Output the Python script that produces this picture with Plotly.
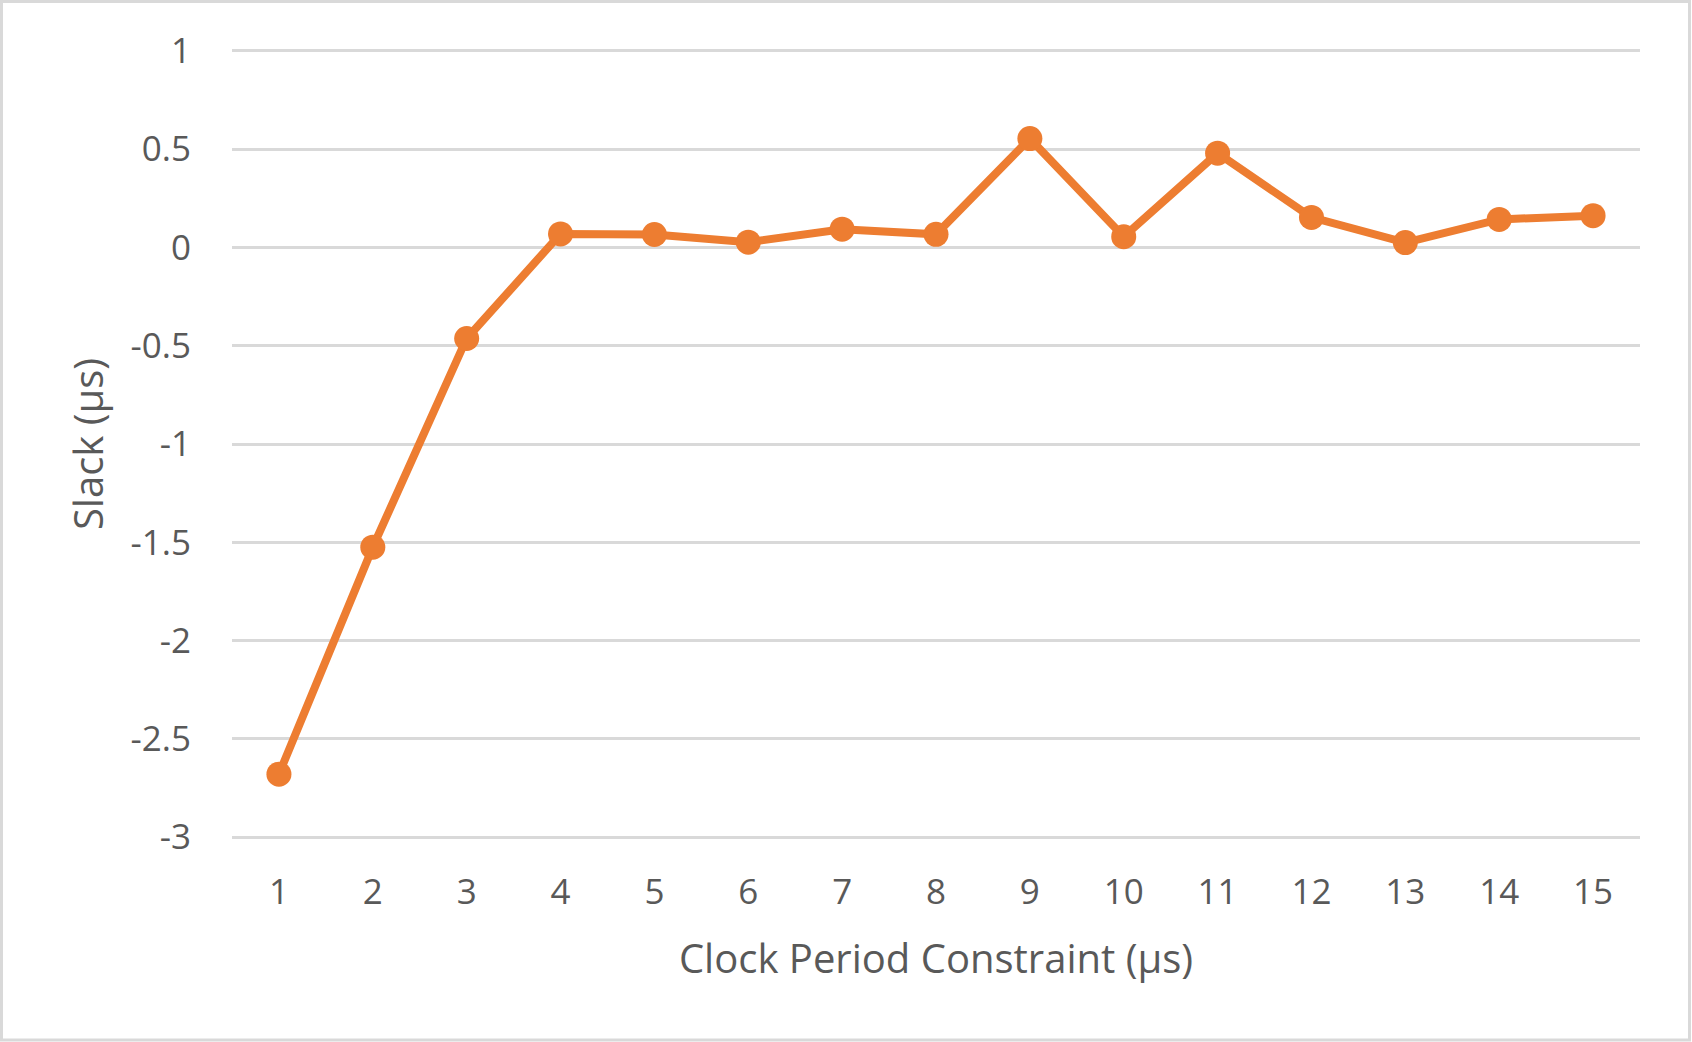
import plotly.graph_objects as go

# Clock period constraint (µs) and resulting slack (µs)
clock_periods = [1, 2, 3, 4, 5, 6, 7, 8, 9, 10, 11, 12, 13, 14, 15]
slack = [-2.68, -1.525, -0.463, 0.069, 0.066, 0.027, 0.093, 0.067,
         0.554, 0.055, 0.48, 0.153, 0.025, 0.143, 0.162]
y_ticks = [1, 0.5, 0, -0.5, -1, -1.5, -2, -2.5, -3]

FONT = "Open Sans"
TEXT_COLOR = "#595959"
GRID_COLOR = "#d9d9d9"
LINE_COLOR = "#ed7d31"

fig = go.Figure()

fig.add_trace(go.Scatter(
    x=clock_periods,
    y=slack,
    mode="lines+markers",
    line=dict(color=LINE_COLOR, width=8),
    marker=dict(size=25, color=LINE_COLOR),
    showlegend=False
))

fig.update_layout(
    width=1692,
    height=1042,
    margin=dict(l=232, r=52, t=49, b=203),
    paper_bgcolor="white",
    plot_bgcolor="white",
    font=dict(family=FONT, color=TEXT_COLOR),
    xaxis=dict(
        range=[0.5, 15.5],
        tickmode="array",
        tickvals=clock_periods,
        ticktext=[str(v) for v in clock_periods],
        tickfont=dict(size=35, color=TEXT_COLOR),
        showgrid=False,
        zeroline=False,
        showline=False,
        ticklabelstandoff=29,
        title=dict(text="Clock Period Constraint (µs)",
                   font=dict(size=40, color=TEXT_COLOR), standoff=31),
    ),
    yaxis=dict(
        # small padding so the gridlines at 1 and -3 are drawn
        range=[-3.01, 1.01],
        tickmode="array",
        tickvals=y_ticks,
        ticktext=[str(v) for v in y_ticks],
        tickfont=dict(size=35, color=TEXT_COLOR),
        showgrid=True,
        gridcolor=GRID_COLOR,
        gridwidth=2.5,
        zeroline=False,
        showline=False,
        ticklabelstandoff=40,
        title=dict(text="Slack (µs)",
                   font=dict(size=40, color=TEXT_COLOR), standoff=14),
    ),
)

# light outer frame around the whole chart
H = 1042 - 49 - 203
fig.add_shape(
    type="rect", xref="paper", yref="paper",
    x0=(1.5 - 232) / 1408, x1=(1689.5 - 232) / 1408,
    y0=((1042 - 203) - 1040) / H, y1=((1042 - 203) - 1.5) / H,
    line=dict(color=GRID_COLOR, width=3),
    fillcolor="rgba(0,0,0,0)",
    layer="below"
)

fig.write_html("out.html", config={"displayModeBar": False},
               post_script="document.body.style.margin='0';")
